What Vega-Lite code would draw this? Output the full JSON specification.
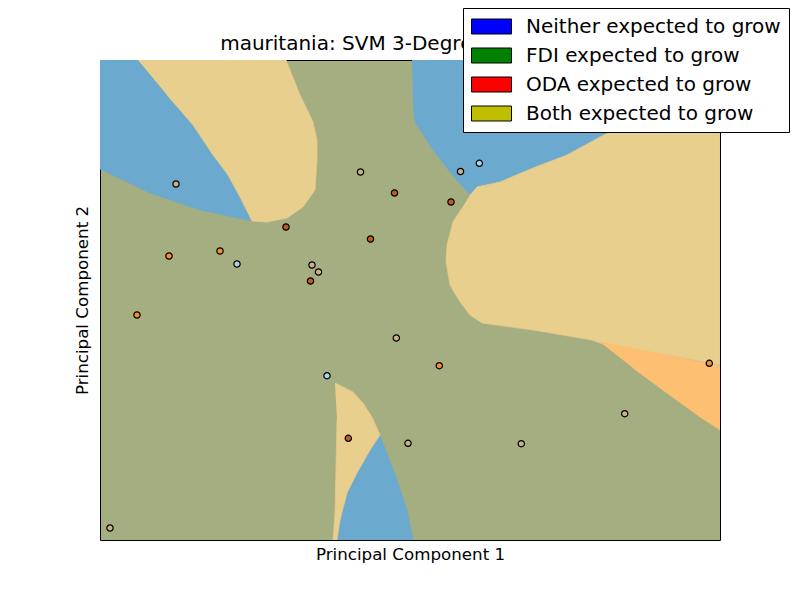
{
  "$schema": "https://vega.github.io/schema/vega-lite/v6.json",
  "width": 620,
  "height": 480,
  "autosize": {"type": "none"},
  "padding": {"left": 100, "top": 60, "right": 80, "bottom": 60},
  "background": "white",
  "config": {"view": {"fill": "#a4ae80", "stroke": "black", "strokeWidth": 1}},
  "title": {"text": "mauritania: SVM 3-Degree Polynomial", "fontSize": 20, "font": "DejaVu Sans", "fontWeight": "normal", "color": "black", "offset": -46, "anchor": "middle", "zindex": 0},
  "datasets": {
    "regions": [
      {"zone": "blue", "poly": "b1", "i": 0, "x": -3.1, "y": 2.4},
      {"zone": "blue", "poly": "b1", "i": 1, "x": -2.72, "y": 2.4},
      {"zone": "blue", "poly": "b1", "i": 2, "x": -2.43, "y": 2.05},
      {"zone": "blue", "poly": "b1", "i": 3, "x": -2.17, "y": 1.75},
      {"zone": "blue", "poly": "b1", "i": 4, "x": -1.97, "y": 1.45},
      {"zone": "blue", "poly": "b1", "i": 5, "x": -1.82, "y": 1.25},
      {"zone": "blue", "poly": "b1", "i": 6, "x": -1.70, "y": 1.03},
      {"zone": "blue", "poly": "b1", "i": 7, "x": -1.58, "y": 0.79},
      {"zone": "blue", "poly": "b1", "i": 8, "x": -2.10, "y": 0.90},
      {"zone": "blue", "poly": "b1", "i": 9, "x": -2.60, "y": 1.07},
      {"zone": "blue", "poly": "b1", "i": 10, "x": -3.1, "y": 1.31},
      {"zone": "blue", "poly": "b2", "i": 0, "x": 0.02, "y": 2.4},
      {"zone": "blue", "poly": "b2", "i": 1, "x": 3.1, "y": 2.4},
      {"zone": "blue", "poly": "b2", "i": 2, "x": 3.1, "y": 2.05},
      {"zone": "blue", "poly": "b2", "i": 3, "x": 2.30, "y": 1.80},
      {"zone": "blue", "poly": "b2", "i": 4, "x": 2.00, "y": 1.68},
      {"zone": "blue", "poly": "b2", "i": 5, "x": 1.90, "y": 1.63},
      {"zone": "blue", "poly": "b2", "i": 6, "x": 1.57, "y": 1.45},
      {"zone": "blue", "poly": "b2", "i": 7, "x": 1.23, "y": 1.32},
      {"zone": "blue", "poly": "b2", "i": 8, "x": 0.90, "y": 1.18},
      {"zone": "blue", "poly": "b2", "i": 9, "x": 0.67, "y": 1.13},
      {"zone": "blue", "poly": "b2", "i": 10, "x": 0.60, "y": 1.05},
      {"zone": "blue", "poly": "b2", "i": 11, "x": 0.40, "y": 1.28},
      {"zone": "blue", "poly": "b2", "i": 12, "x": 0.23, "y": 1.50},
      {"zone": "blue", "poly": "b2", "i": 13, "x": 0.05, "y": 1.78},
      {"zone": "blue", "poly": "b2", "i": 14, "x": 0.03, "y": 1.98},
      {"zone": "blue", "poly": "b3", "i": 0, "x": -0.30, "y": -1.35},
      {"zone": "blue", "poly": "b3", "i": 1, "x": -0.13, "y": -1.80},
      {"zone": "blue", "poly": "b3", "i": 2, "x": -0.03, "y": -2.10},
      {"zone": "blue", "poly": "b3", "i": 3, "x": 0.03, "y": -2.4},
      {"zone": "blue", "poly": "b3", "i": 4, "x": -0.73, "y": -2.4},
      {"zone": "blue", "poly": "b3", "i": 5, "x": -0.70, "y": -2.20},
      {"zone": "blue", "poly": "b3", "i": 6, "x": -0.63, "y": -1.93},
      {"zone": "blue", "poly": "b3", "i": 7, "x": -0.53, "y": -1.73},
      {"zone": "blue", "poly": "b3", "i": 8, "x": -0.40, "y": -1.50},
      {"zone": "tan", "poly": "t1", "i": 0, "x": -2.72, "y": 2.4},
      {"zone": "tan", "poly": "t1", "i": 1, "x": -1.24, "y": 2.4},
      {"zone": "tan", "poly": "t1", "i": 2, "x": -1.10, "y": 2.05},
      {"zone": "tan", "poly": "t1", "i": 3, "x": -0.97, "y": 1.78},
      {"zone": "tan", "poly": "t1", "i": 4, "x": -0.93, "y": 1.60},
      {"zone": "tan", "poly": "t1", "i": 5, "x": -0.93, "y": 1.40},
      {"zone": "tan", "poly": "t1", "i": 6, "x": -0.95, "y": 1.10},
      {"zone": "tan", "poly": "t1", "i": 7, "x": -1.07, "y": 0.93},
      {"zone": "tan", "poly": "t1", "i": 8, "x": -1.23, "y": 0.82},
      {"zone": "tan", "poly": "t1", "i": 9, "x": -1.43, "y": 0.78},
      {"zone": "tan", "poly": "t1", "i": 10, "x": -1.58, "y": 0.79},
      {"zone": "tan", "poly": "t1", "i": 11, "x": -1.70, "y": 1.03},
      {"zone": "tan", "poly": "t1", "i": 12, "x": -1.82, "y": 1.25},
      {"zone": "tan", "poly": "t1", "i": 13, "x": -1.97, "y": 1.45},
      {"zone": "tan", "poly": "t1", "i": 14, "x": -2.17, "y": 1.75},
      {"zone": "tan", "poly": "t1", "i": 15, "x": -2.43, "y": 2.05},
      {"zone": "tan", "poly": "t2", "i": 0, "x": 0.60, "y": 1.05},
      {"zone": "tan", "poly": "t2", "i": 1, "x": 0.67, "y": 1.13},
      {"zone": "tan", "poly": "t2", "i": 2, "x": 0.90, "y": 1.18},
      {"zone": "tan", "poly": "t2", "i": 3, "x": 1.23, "y": 1.32},
      {"zone": "tan", "poly": "t2", "i": 4, "x": 1.57, "y": 1.45},
      {"zone": "tan", "poly": "t2", "i": 5, "x": 1.90, "y": 1.63},
      {"zone": "tan", "poly": "t2", "i": 6, "x": 2.00, "y": 1.68},
      {"zone": "tan", "poly": "t2", "i": 7, "x": 2.30, "y": 1.80},
      {"zone": "tan", "poly": "t2", "i": 8, "x": 3.1, "y": 2.05},
      {"zone": "tan", "poly": "t2", "i": 9, "x": 3.1, "y": -0.65},
      {"zone": "tan", "poly": "t2", "i": 10, "x": 2.57, "y": -0.55},
      {"zone": "tan", "poly": "t2", "i": 11, "x": 1.93, "y": -0.44},
      {"zone": "tan", "poly": "t2", "i": 12, "x": 1.82, "y": -0.40},
      {"zone": "tan", "poly": "t2", "i": 13, "x": 1.23, "y": -0.30},
      {"zone": "tan", "poly": "t2", "i": 14, "x": 0.72, "y": -0.23},
      {"zone": "tan", "poly": "t2", "i": 15, "x": 0.60, "y": -0.15},
      {"zone": "tan", "poly": "t2", "i": 16, "x": 0.50, "y": -0.02},
      {"zone": "tan", "poly": "t2", "i": 17, "x": 0.40, "y": 0.15},
      {"zone": "tan", "poly": "t2", "i": 18, "x": 0.36, "y": 0.38},
      {"zone": "tan", "poly": "t2", "i": 19, "x": 0.37, "y": 0.55},
      {"zone": "tan", "poly": "t2", "i": 20, "x": 0.43, "y": 0.78},
      {"zone": "tan", "poly": "t2", "i": 21, "x": 0.52, "y": 0.92},
      {"zone": "tan", "poly": "t3", "i": 0, "x": -0.75, "y": -0.83},
      {"zone": "tan", "poly": "t3", "i": 1, "x": -0.67, "y": -0.87},
      {"zone": "tan", "poly": "t3", "i": 2, "x": -0.57, "y": -0.92},
      {"zone": "tan", "poly": "t3", "i": 3, "x": -0.47, "y": -1.03},
      {"zone": "tan", "poly": "t3", "i": 4, "x": -0.38, "y": -1.17},
      {"zone": "tan", "poly": "t3", "i": 5, "x": -0.30, "y": -1.35},
      {"zone": "tan", "poly": "t3", "i": 6, "x": -0.40, "y": -1.50},
      {"zone": "tan", "poly": "t3", "i": 7, "x": -0.53, "y": -1.73},
      {"zone": "tan", "poly": "t3", "i": 8, "x": -0.63, "y": -1.93},
      {"zone": "tan", "poly": "t3", "i": 9, "x": -0.70, "y": -2.20},
      {"zone": "tan", "poly": "t3", "i": 10, "x": -0.73, "y": -2.4},
      {"zone": "tan", "poly": "t3", "i": 11, "x": -0.77, "y": -2.4},
      {"zone": "tan", "poly": "t3", "i": 12, "x": -0.75, "y": -2.13},
      {"zone": "tan", "poly": "t3", "i": 13, "x": -0.73, "y": -1.20},
      {"zone": "orange", "poly": "o1", "i": 0, "x": 1.90, "y": -0.42},
      {"zone": "orange", "poly": "o1", "i": 1, "x": 2.57, "y": -0.55},
      {"zone": "orange", "poly": "o1", "i": 2, "x": 3.1, "y": -0.66},
      {"zone": "orange", "poly": "o1", "i": 3, "x": 3.1, "y": -1.30},
      {"zone": "orange", "poly": "o1", "i": 4, "x": 2.90, "y": -1.17},
      {"zone": "orange", "poly": "o1", "i": 5, "x": 2.50, "y": -0.88},
      {"zone": "orange", "poly": "o1", "i": 6, "x": 2.23, "y": -0.68}
    ],
    "points": [
      {"cls": "FDI", "x": -2.34, "y": 1.16},
      {"cls": "FDI", "x": -3.00, "y": -2.28},
      {"cls": "ODA", "x": -2.73, "y": -0.15},
      {"cls": "ODA", "x": -2.41, "y": 0.44},
      {"cls": "ODA", "x": -1.90, "y": 0.49},
      {"cls": "Neither", "x": -1.73, "y": 0.36},
      {"cls": "Both", "x": -1.24, "y": 0.73},
      {"cls": "FDI", "x": -0.98, "y": 0.35},
      {"cls": "FDI", "x": -0.915, "y": 0.28},
      {"cls": "Both", "x": -0.995, "y": 0.19},
      {"cls": "FDI", "x": -0.495, "y": 1.28},
      {"cls": "Both", "x": -0.155, "y": 1.07},
      {"cls": "Both", "x": -0.395, "y": 0.61},
      {"cls": "Both", "x": 0.41, "y": 0.98},
      {"cls": "FDI", "x": 0.505, "y": 1.285},
      {"cls": "Neither", "x": 0.693, "y": 1.367},
      {"cls": "FDI", "x": -0.137, "y": -0.38},
      {"cls": "ODA", "x": 0.293, "y": -0.657},
      {"cls": "Neither", "x": -0.83, "y": -0.757},
      {"cls": "Both", "x": -0.617, "y": -1.383},
      {"cls": "FDI", "x": -0.02, "y": -1.433},
      {"cls": "FDI", "x": 1.113, "y": -1.437},
      {"cls": "FDI", "x": 2.147, "y": -1.137},
      {"cls": "ODA", "x": 2.993, "y": -0.633}
    ],
    "legend": [
      {"label": "Neither expected to grow"},
      {"label": "FDI expected to grow"},
      {"label": "ODA expected to grow"},
      {"label": "Both expected to grow"}
    ]
  },
  "encoding": {
    "x": {"field": "x", "type": "quantitative", "scale": {"domain": [-3.1, 3.1], "nice": false, "zero": false},
      "axis": {"title": "Principal Component 1", "labels": false, "ticks": false, "domain": false, "grid": false, "titleFontSize": 16.7, "titleFont": "DejaVu Sans", "titleFontWeight": "normal", "titleColor": "black", "titlePadding": 6}},
    "y": {"field": "y", "type": "quantitative", "scale": {"domain": [-2.4, 2.4], "nice": false, "zero": false},
      "axis": {"title": "Principal Component 2", "labels": false, "ticks": false, "domain": false, "grid": false, "titleFontSize": 16.7, "titleFont": "DejaVu Sans", "titleFontWeight": "normal", "titleColor": "black", "titlePadding": 9}}
  },
  "layer": [
    {
      "data": {"name": "regions"},
      "transform": [{"filter": "datum.zone === 'blue'"}],
      "mark": {"type": "line", "fill": "#6ba9cf", "stroke": "#6ba9cf", "strokeWidth": 0.6, "clip": true},
      "encoding": {"detail": {"field": "poly"}, "order": {"field": "i", "type": "quantitative"}}
    },
    {
      "data": {"name": "regions"},
      "transform": [{"filter": "datum.zone === 'tan'"}],
      "mark": {"type": "line", "fill": "#e8cf8e", "stroke": "#e5c98a", "strokeWidth": 0.8, "clip": true},
      "encoding": {"detail": {"field": "poly"}, "order": {"field": "i", "type": "quantitative"}}
    },
    {
      "data": {"name": "regions"},
      "transform": [{"filter": "datum.zone === 'orange'"}],
      "mark": {"type": "line", "fill": "#fdbf72", "stroke": "#fdbf72", "strokeWidth": 0.6, "clip": true},
      "encoding": {"detail": {"field": "poly"}, "order": {"field": "i", "type": "quantitative"}}
    },
    {
      "data": {"name": "points"},
      "mark": {"type": "point", "shape": "circle", "filled": true, "size": 40, "stroke": "black", "strokeWidth": 1.2, "opacity": 1},
      "encoding": {
        "fill": {"field": "cls", "type": "nominal", "scale": {"domain": ["Neither", "FDI", "ODA", "Both"], "range": ["#a9d3ea", "#c9b08f", "#f68d31", "#bf5b26"]}, "legend": null}
      }
    },
    {
      "data": {"values": [{"edge": "frame"}]},
      "mark": {"type": "rect", "filled": false, "stroke": "black", "strokeWidth": 1},
      "encoding": {"x": {"datum": -3.1, "type": "quantitative"}, "x2": {"datum": 3.1}, "y": {"datum": -2.4, "type": "quantitative"}, "y2": {"datum": 2.4}}
    },
    {
      "data": {"name": "legend"},
      "mark": {"type": "square", "size": 30, "clip": true},
      "encoding": {
        "x": {"datum": 20},
        "y": {"datum": 20},
        "fill": {"field": "label", "type": "nominal", "sort": null,
          "scale": {"domain": ["Neither expected to grow", "FDI expected to grow", "ODA expected to grow", "Both expected to grow"], "range": ["#0000ff", "#008000", "#ff0000", "#bfbf00"]},
          "legend": {"orient": "none", "legendX": 363, "legendY": -52, "title": null, "fillColor": "white", "strokeColor": "black", "padding": 8, "cornerRadius": 0,
            "labelFontSize": 20, "labelFont": "DejaVu Sans", "labelColor": "black", "labelOffset": 34, "labelLimit": 400,
            "symbolType": "M-1,-0.75H3V0.75H-1Z", "symbolSize": 400, "symbolStrokeColor": "black", "symbolStrokeWidth": 1, "symbolOpacity": 1,
            "rowPadding": 8, "zindex": 2}
        }
      }
    }
  ],
  "resolve": {"scale": {"fill": "independent"}}
}
